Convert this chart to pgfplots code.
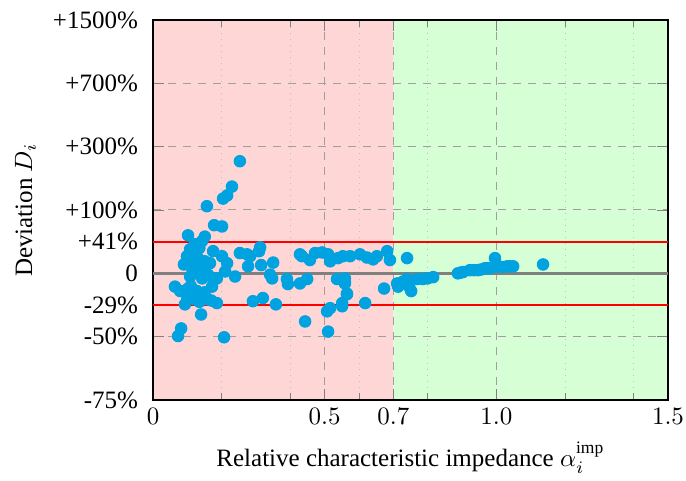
\documentclass[border=0pt]{standalone}
\usepackage{amsmath}
\usepackage{fontspec}
\setmainfont{Liberation Serif}
\usepackage{pgfplots}
\pgfplotsset{compat=1.18}
\definecolor{dot}{RGB}{0,163,224}
\definecolor{badfill}{RGB}{255,214,214}
\definecolor{goodfill}{RGB}{214,255,214}

% deviations D_i, stored as log2(1+D_i)
\pgfplotstableread{
x y
0.253 1.77
0.230 1.37
0.216 1.23
0.204 1.18
0.157 1.06
0.178 0.76
0.201 0.74
0.102 0.60
0.151 0.58
0.143 0.51
0.122 0.46
0.135 0.40
0.108 0.38
0.117 0.30
0.175 0.35
0.253 0.32
0.274 0.30
0.312 0.41
0.309 0.35
0.283 0.27
0.201 0.27
0.099 0.27
0.131 0.24
0.125 0.20
0.151 0.19
0.090 0.14
0.122 0.15
0.166 0.16
0.216 0.16
0.315 0.13
0.350 0.17
0.277 0.11
0.151 0.11
0.114 0.08
0.140 0.05
0.210 0.03
0.135 0.00
0.160 -0.02
0.341 -0.02
0.347 -0.08
0.108 -0.05
0.239 -0.05
0.143 -0.08
0.175 -0.08
0.186 -0.08
0.064 -0.21
0.110 -0.20
0.172 -0.21
0.079 -0.28
0.102 -0.24
0.128 -0.28
0.150 -0.30
0.100 -0.40
0.093 -0.49
0.122 -0.41
0.135 -0.45
0.160 -0.41
0.170 -0.43
0.186 -0.47
0.291 -0.44
0.320 -0.39
0.358 -0.49
0.140 -0.65
0.082 -0.87
0.073 -0.99
0.207 -1.01
0.390 -0.09
0.393 -0.17
0.428 -0.16
0.449 -0.09
0.434 0.27
0.428 0.30
0.457 0.21
0.472 0.32
0.492 0.33
0.510 0.30
0.516 0.19
0.539 0.24
0.553 0.27
0.536 -0.09
0.559 -0.13
0.565 -0.32
0.551 -0.47
0.551 -0.52
0.516 -0.55
0.507 -0.60
0.510 -0.92
0.443 -0.76
0.574 0.27
0.603 0.30
0.623 0.25
0.641 0.22
0.652 0.27
0.682 0.35
0.690 0.21
0.559 -0.08
0.559 -0.16
0.565 -0.33
0.673 -0.24
0.618 -0.47
0.740 0.24
0.714 -0.21
0.711 -0.16
0.720 -0.16
0.728 -0.13
0.740 -0.09
0.743 -0.17
0.752 -0.28
0.746 -0.21
0.769 -0.09
0.786 -0.09
0.800 -0.08
0.816 -0.06
0.888 0.00
0.895 0.01
0.903 0.02
0.923 0.05
0.935 0.05
0.947 0.05
0.955 0.06
0.967 0.08
0.975 0.08
0.982 0.08
1.002 0.11
1.015 0.10
1.031 0.11
1.040 0.11
1.049 0.11
0.996 0.24
1.136 0.14
}\devtable

\begin{document}
\begin{tikzpicture}
\begin{axis}[
  set layers,
  scale only axis,
  width=206pt, height=152pt,
  xmin=0, xmax=1.5,
  ymin=-2, ymax=4,
  xtick={0,0.5,0.7,1.0,1.5},
  xticklabels={$0$,$0.5$,$0.7$,$1.0$,$1.5$},
  minor xtick={0.2,0.4,0.6,0.8,1.2,1.4},
  ytick={-2,-1,-0.5,0,0.5,1,2,3,4},
  yticklabels={-75\%,-50\%,-29\%,0,+41\%,+100\%,+300\%,+700\%,+1500\%},
  yticklabel style={xshift=-2.5pt},
  grid=both,
  major grid style={dashed, gray!75},
  minor grid style={dotted, gray!50},
  axis line style={thick},
  xlabel={Relative characteristic impedance $\alpha_i^{\text{imp}}$},
  ylabel={Deviation $D_i$},
  tick label style={font=\normalsize},
  label style={font=\normalsize},
]
% regions
\addplot[draw=none, fill=badfill, on layer=axis background, forget plot]
  coordinates {(0,-2) (0.7,-2) (0.7,4) (0,4) (0,-2)};
\addplot[draw=none, fill=goodfill, on layer=axis background, forget plot]
  coordinates {(0.7,-2) (1.5,-2) (1.5,4) (0.7,4) (0.7,-2)};
% reference lines
\addplot[gray, line width=1pt, forget plot] coordinates {(0,0) (1.5,0)};
\addplot[red, line width=0.9pt, forget plot] coordinates {(0,0.5) (1.5,0.5)};
\addplot[red, line width=0.9pt, forget plot] coordinates {(0,-0.5) (1.5,-0.5)};
% samples
\addplot[only marks, mark=*, mark size=2.3pt, color=dot,
  mark options={draw=dot, fill=dot}] table[x=x, y=y] {\devtable};
\end{axis}
\pgfresetboundingbox
\useasboundingbox ([shift={(-61.2pt,-32pt)}]current axis.south west)
  rectangle ([shift={(7.2pt,8pt)}]current axis.north east);
\end{tikzpicture}
\end{document}
